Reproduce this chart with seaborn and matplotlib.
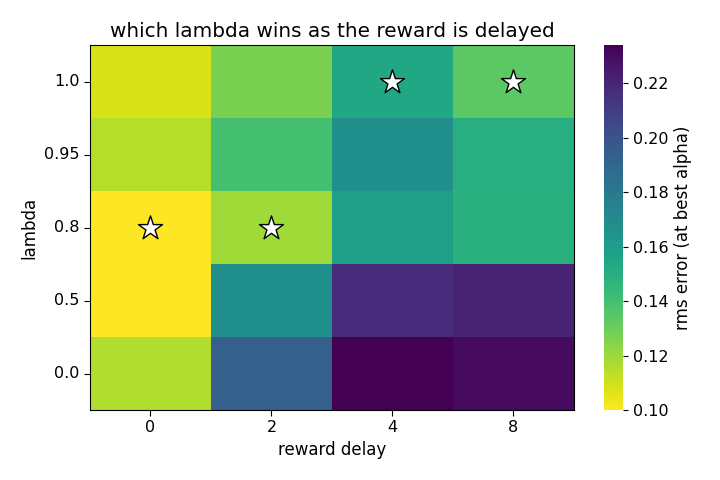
import matplotlib
matplotlib.use('Agg')
import matplotlib.pyplot as plt
import pandas as pd
import numpy as np
import seaborn as sns

delays = [0, 2, 4, 8]
lambdas = [1.0, 0.95, 0.8, 0.5, 0.0]
# rms error at best alpha, rows = lambdas (top to bottom), cols = delays
rms_lam_100 = [0.108, 0.127, 0.154, 0.1335]
rms_lam_095 = [0.115, 0.140, 0.167, 0.150]
rms_lam_080 = [0.100, 0.119, 0.159, 0.149]
rms_lam_050 = [0.1005, 0.167, 0.218, 0.221]
rms_lam_000 = [0.116, 0.194, 0.234, 0.230]

dat = pd.DataFrame([rms_lam_100, rms_lam_095, rms_lam_080, rms_lam_050, rms_lam_000],
                   index=lambdas, columns=delays)

plt.rcParams['font.size'] = 12

fig = plt.figure(figsize=(7.2, 4.8), dpi=100)
ax = fig.add_axes([0.125, 0.1458, 0.672, 0.760])
cax = fig.add_axes([604/720, 0.1458, 19/720, 0.760])

sns.heatmap(dat, ax=ax, cbar_ax=cax, cmap='viridis_r', vmin=0.10, vmax=0.234,
            yticklabels=[str(l) for l in lambdas], xticklabels=delays,
            cbar_kws={'ticks': np.arange(0.10, 0.23, 0.02), 'format': '%.2f'})

# stars on the best lambda for each delay
best_rows = np.argmin(dat.values, axis=0)
ax.scatter(np.arange(len(delays)) + 0.5, best_rows + 0.5, marker='*', s=330,
           color='white', edgecolors='black', linewidths=1.0, zorder=3)

for s in ax.spines.values():
    s.set_visible(True)
    s.set_color('black')
ax.tick_params(axis='both', labelsize=11.5, length=4, color='black')
ax.set_yticklabels(ax.get_yticklabels(), rotation=0)
ax.set_xlabel('reward delay', fontsize=12)
ax.set_ylabel('lambda', fontsize=12)
ax.set_title('which lambda wins as the reward is delayed', fontsize=14.4)

cbar = ax.collections[0].colorbar
cbar.outline.set_visible(True)
cbar.outline.set_edgecolor('black')
cbar.ax.tick_params(labelsize=11.5)
cbar.set_label('rms error (at best alpha)', fontsize=12)

plt.savefig('out.png', dpi=100)
